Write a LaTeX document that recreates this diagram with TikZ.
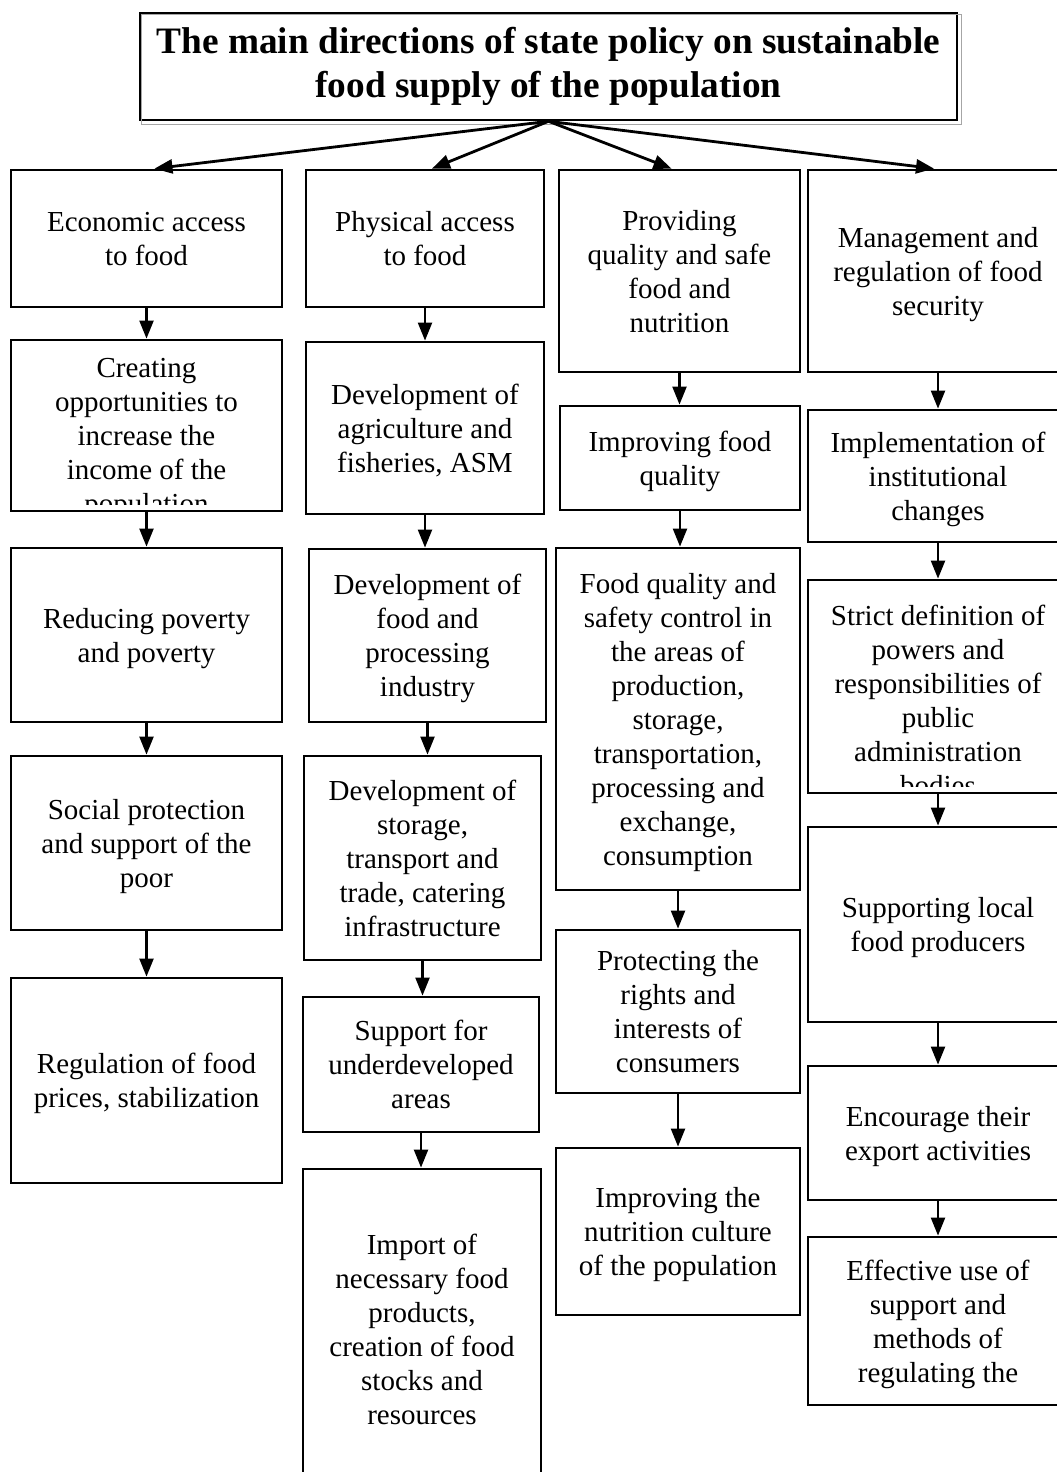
\documentclass[tikz,border=0pt]{standalone}
\usepackage{fontspec}
\setmainfont{Liberation Serif}
\usetikzlibrary{arrows.meta, positioning, calc}

\begin{document}
\begin{tikzpicture}[x=1pt, y=-1pt,
    box/.style={rectangle, draw, black, line width=2.8pt, align=center, inner sep=0pt, text depth=0pt, font=\fontsize{29}{34}\selectfont},
    heading/.style={rectangle, draw, black, line width=2.6pt, align=center, minimum width=817pt, minimum height=107pt, font=\bfseries\fontsize{37.3}{44}\selectfont},
    cut/.style={align=center, inner sep=0pt, font=\fontsize{29}{34}\selectfont},
    link/.style={draw, black, line width=2.2pt, -{Triangle[length=18pt, width=14pt]}},
    fan/.style={link, line width=2.8pt}]

    \useasboundingbox (0,0) rectangle (1057,1472);

    % Title with its grey shadow
    \node[heading] (head) at (548.5,66.5) {The main directions of state policy on sustainable\\food supply of the population};
    \draw[gray!70, line width=1.5pt] ([shift={(3pt,-3pt)}]head.north west) rectangle ([shift={(3pt,-3pt)}]head.south east);

    % Column 1: economic access
    \node[box, minimum width=271pt, minimum height=137pt] (eco) at (146.5,238.5) {Economic access\\to food};
    \node[box, minimum width=271pt, minimum height=171pt] (income) at (146.5,425.5) {};
    \begin{scope}
        \clip ([shift={(2pt,-2pt)}]income.north west) rectangle ([shift={(-2pt,8pt)}]income.south east);
        \node[cut] (incometext) at (146.5,439) {Creating\\opportunities to\\increase the\\income of the\\population};
    \end{scope}
    \node[box, minimum width=271pt, minimum height=174pt] (poverty) at (146.5,635) {Reducing poverty\\and poverty};
    \node[box, minimum width=271pt, minimum height=174pt] (social) at (146.5,843) {Social protection\\and support of the\\poor};
    \node[box, minimum width=271pt, minimum height=205pt] (prices) at (146.5,1080.5) {Regulation of food\\prices, stabilization};

    % Column 2: physical access
    \node[box, minimum width=238pt, minimum height=137pt] (phys) at (425,238.5) {Physical access\\to food};
    \node[box, minimum width=238pt, minimum height=172pt] (agri) at (425,428) {Development of\\agriculture and\\fisheries, ASM};
    \node[box, minimum width=237pt, minimum height=173pt] (industry) at (427.5,635.5) {Development of\\food and\\processing\\industry};
    \node[box, minimum width=237pt, minimum height=204pt] (infra) at (422.5,858) {Development of\\storage,\\transport and\\trade, catering\\infrastructure};
    \node[box, minimum width=236pt, minimum height=135pt] (areas) at (421,1064.5) {Support for\\underdeveloped\\areas};
    \node[box, minimum width=238pt, minimum height=321pt] (import) at (422,1329.5) {Import of\\necessary food\\products,\\creation of food\\stocks and\\resources};

    % Column 3: quality and safety
    \node[box, minimum width=241pt, minimum height=202pt] (quality) at (679.5,271) {Providing\\quality and safe\\food and\\nutrition};
    \node[box, minimum width=240pt, minimum height=104pt] (improve) at (680,458) {Improving food\\quality};
    \node[box, minimum width=244pt, minimum height=342pt] (control) at (678,719) {Food quality and\\safety control in\\the areas of\\production,\\storage,\\transportation,\\processing and\\exchange,\\consumption};
    \node[box, minimum width=244pt, minimum height=163pt] (rights) at (678,1011.5) {Protecting the\\rights and\\interests of\\consumers};
    \node[box, minimum width=244pt, minimum height=167pt] (culture) at (678,1231.5) {Improving the\\nutrition culture\\of the population};

    % Column 4: management and regulation
    \node[box, minimum width=260pt, minimum height=202pt] (manage) at (938,271) {Management and\\regulation of food\\security};
    \node[box, minimum width=260pt, minimum height=132pt] (inst) at (938,476) {Implementation of\\institutional\\changes};
    \node[box, minimum width=260pt, minimum height=213pt] (powers) at (938,686.5) {};
    \begin{scope}
        \clip ([shift={(2pt,-2pt)}]powers.north west) rectangle ([shift={(-2pt,8pt)}]powers.south east);
        \node[cut] (powerstext) at (938,700) {Strict definition of\\powers and\\responsibilities of\\public\\administration\\bodies};
    \end{scope}
    \node[box, minimum width=260pt, minimum height=195pt] (local) at (938,924.5) {Supporting local\\food producers};
    \node[box, minimum width=260pt, minimum height=134pt] (export) at (938,1133) {Encourage their\\export activities};
    \node[box, minimum width=260pt, minimum height=168pt] (methods) at (938,1321) {Effective use of\\support and\\methods of\\regulating the};

    % Title to the four directions
    \draw[fan] (head.south) -- ([xshift=8pt]eco.north);
    \draw[fan] (head.south) -- ([xshift=7pt]phys.north);
    \draw[fan] (head.south) -- ([xshift=-8pt]quality.north);
    \draw[fan] (head.south) -- ([xshift=-4pt]manage.north);

    % Arrows down each column
    \draw[link] (eco.south) -- (eco.south |- income.north);
    \draw[link] (income.south) -- (income.south |- poverty.north);
    \draw[link] (poverty.south) -- (poverty.south |- social.north);
    \draw[link] (social.south) -- (social.south |- prices.north);

    \draw[link] (phys.south) -- (phys.south |- agri.north);
    \draw[link] (agri.south) -- (agri.south |- industry.north);
    \draw[link] (industry.south) -- (industry.south |- infra.north);
    \draw[link] (infra.south) -- (infra.south |- areas.north);
    \draw[link] (areas.south) -- (areas.south |- import.north);

    \draw[link] (quality.south) -- (quality.south |- improve.north);
    \draw[link] (improve.south) -- (improve.south |- control.north);
    \draw[link] (control.south) -- (control.south |- rights.north);
    \draw[link] (rights.south) -- (rights.south |- culture.north);

    \draw[link] (manage.south) -- (manage.south |- inst.north);
    \draw[link] (inst.south) -- (inst.south |- powers.north);
    \draw[link] (powers.south) -- (powers.south |- local.north);
    \draw[link] (local.south) -- (local.south |- export.north);
    \draw[link] (export.south) -- (export.south |- methods.north);

\end{tikzpicture}
\end{document}
